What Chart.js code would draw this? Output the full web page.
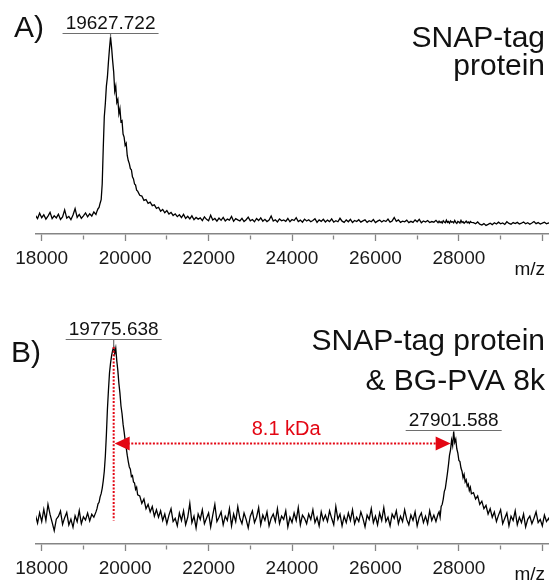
<!DOCTYPE html>
<html><head><meta charset="utf-8">
<script src="https://cdn.jsdelivr.net/npm/chart.js@4/dist/chart.umd.min.js"></script>
<style>
html,body{margin:0;padding:0;background:#fff;}
#wrap{position:relative;width:549px;height:585px;overflow:hidden;background:#fff;}
canvas{position:absolute;left:0;}
</style></head><body>
<div id="wrap">
<canvas id="cA" width="549" height="290" style="top:0px"></canvas>
<canvas id="cB" width="549" height="295" style="top:290px"></canvas>
</div>
<script>
// ---------- DATA ----------
const mz = [
17850,17900,17950,18000,18050,18100,18150,18200,18250,18300,18350,18400,18450,18500,18550,18600,18650,18700,18750,18800,18850,18900,18950,19000,19050,19100,19150,19200,19250,19300,
19325,19350,19375,19400,19425,19450,19475,19500,19525,19550,19575,19600,19625,19650,19675,19700,19725,19750,19775,19800,19825,19850,19875,19900,19925,19950,19975,20000,20025,20050,20075,20100,20125,20150,20175,20200,20225,20250,20275,20300,
20350,20400,20450,20500,20550,20600,20650,20700,20750,20800,
20850,20900,20950,21000,21050,21100,21150,21200,21250,21300,
21350,21400,21450,21500,21550,21600,21650,21700,21750,21800,
21850,21900,21950,22000,22050,22100,22150,22200,22250,22300,
22350,22400,22450,22500,22550,22600,22650,22700,22750,22800,
22850,22900,22950,23000,23050,23100,23150,23200,23250,23300,
23350,23400,23450,23500,23550,23600,23650,23700,23750,23800,
23850,23900,23950,24000,24050,24100,24150,24200,24250,24300,
24350,24400,24450,24500,24550,24600,24650,24700,24750,24800,
24850,24900,24950,25000,25050,25100,25150,25200,25250,25300,
25350,25400,25450,25500,25550,25600,25650,25700,25750,25800,
25850,25900,25950,26000,26050,26100,26150,26200,26250,26300,
26350,26400,26450,26500,26550,26600,26650,26700,26750,26800,
26850,26900,26950,27000,27050,27100,27150,27200,27250,27300,
27350,27400,27450,27500,
27525,27550,27575,27600,27625,27650,27675,27700,27725,27750,27775,27800,27825,27850,27875,27900,27925,27950,27975,28000,28025,28050,28075,28100,28125,28150,28175,28200,28225,28250,28275,28300,
28350,28400,28450,28500,28550,28600,28650,28700,28750,28800,28850,28900,28950,29000,29050,29100,29150,29200,29250,29300,29350,29400,29450,29500,29550,29600,29650,29700,29750,29800,29850,29900,29950,30000,30050,30100,30150,30200
];

// Panel A: SNAP-tag protein (relative intensity, %)
const intensityA = [
9.1,7.6,10.2,8.0,9.4,7.3,8.8,10.6,7.5,8.9,7.9,9.7,7.1,8.4,11.8,7.8,8.6,7.0,9.3,12.4,8.1,9.6,7.7,8.9,10.3,8.4,9.9,8.8,10.8,9.6,
11.2,12.4,13.0,15.1,16.8,24.5,42.0,57.5,64.0,72.5,77.0,84.5,91.0,96.5,91.5,85.0,79.5,70.0,72.5,64.5,66.0,59.0,61.5,55.0,55.5,49.0,47.5,43.5,44.5,38.5,36.0,34.5,32.0,31.5,28.0,27.0,24.5,24.0,21.5,21.0,
19.0,18.6,16.5,16.9,15.0,15.6,13.9,14.3,12.6,13.1,
11.2,12.0,10.4,11.5,9.8,10.6,9.1,9.9,8.5,9.4,
8.0,9.6,7.6,8.7,7.4,8.9,7.0,8.1,7.3,7.9,
6.6,8.4,7.2,6.5,9.2,6.9,7.6,6.3,7.8,6.7,
8.1,6.4,7.3,6.8,8.6,6.2,7.5,6.9,6.4,7.7,
6.1,7.0,8.3,6.5,7.1,6.0,7.6,6.6,7.9,6.3,
7.2,6.1,6.8,8.8,6.4,7.0,5.9,7.4,6.5,6.9,
6.2,7.6,6.0,7.1,6.6,8.0,6.1,6.8,5.8,7.3,
6.4,7.0,6.0,6.6,7.5,5.7,6.9,6.2,7.2,5.9,
6.8,6.1,7.4,5.8,6.5,6.0,7.7,6.3,5.7,6.9,
6.0,7.2,5.6,6.6,6.1,7.0,5.8,6.4,6.9,5.7,
6.5,6.0,7.1,5.6,6.3,6.8,5.9,6.6,6.1,7.3,
5.8,6.4,8.1,6.2,6.9,5.7,6.3,6.0,6.8,5.6,
6.2,5.7,6.9,6.0,7.2,5.5,6.4,5.9,6.6,5.6,
6.1,5.8,6.7,5.5,
6.3,5.6,6.0,5.4,6.5,5.9,5.5,6.8,5.7,6.1,5.3,6.4,5.8,6.0,5.5,6.6,5.7,5.2,6.2,5.9,5.4,6.7,5.6,6.0,5.3,5.8,6.3,5.5,5.9,5.2,6.1,5.7,
5.6,5.0,5.9,4.8,4.4,5.1,4.2,4.7,5.3,4.6,5.5,4.9,5.8,5.0,5.4,4.7,6.0,5.2,4.8,5.6,5.1,5.7,4.9,5.3,5.9,5.0,5.5,4.8,5.4,6.1,5.1,5.6,4.9,5.3,5.8,5.0,5.4,5.2
];

// Panel B: SNAP-tag protein & BG-PVA 8k (relative intensity, %)
const intensityB = [
13.5,9.8,14.6,10.5,16.2,11.0,18.5,13.8,10.1,6.2,11.6,12.9,15.4,9.2,12.3,14.8,8.9,11.6,7.8,13.2,10.4,15.6,9.5,12.7,11.2,14.4,10.8,13.9,12.5,15.0,
16.5,18.8,19.5,22.0,23.5,26.0,29.5,34.0,41.0,51.0,63.0,72.0,80.0,84.5,88.0,90.5,92.0,89.0,91.5,85.5,81.0,75.0,70.5,64.5,61.0,56.0,52.5,48.5,45.0,41.5,38.5,36.0,35.0,31.5,32.0,29.0,28.5,25.5,26.5,23.0,
22.5,19.0,21.0,16.5,18.5,15.0,17.5,13.0,16.0,12.5,
15.5,11.0,14.0,9.5,13.5,16.5,10.5,12.0,8.5,14.5,
11.0,15.5,9.0,12.5,19.0,10.0,13.0,7.5,14.0,11.5,
16.0,9.5,12.0,14.5,8.0,13.5,18.5,10.5,12.5,15.0,
9.0,13.0,11.0,16.5,8.5,14.0,10.5,17.5,12.0,9.5,
14.5,11.5,7.5,13.0,15.5,10.0,12.5,17.0,9.0,13.5,
11.0,15.0,8.5,12.0,14.0,10.5,16.5,9.5,13.0,11.5,
15.5,8.0,12.5,10.0,14.5,11.0,17.0,9.0,13.5,12.0,
9.5,14.0,11.5,16.0,10.0,12.5,8.5,15.0,11.0,13.5,
10.5,15.5,12.0,9.0,17.5,11.5,14.0,8.5,13.0,10.0,
14.5,11.0,16.0,9.5,12.5,10.5,15.0,12.0,8.0,13.5,
11.5,16.5,10.0,13.0,9.0,14.5,11.0,17.0,10.5,12.5,
8.5,14.0,12.0,15.5,9.5,13.0,10.5,16.0,11.5,9.0,
13.5,11.0,15.0,8.5,12.5,14.5,10.0,13.0,9.5,15.5,
11.0,13.5,10.5,14.0,
15.0,12.5,17.5,18.5,21.0,24.5,26.0,29.5,33.0,37.0,41.5,44.0,48.5,46.0,52.5,47.5,49.0,44.5,42.5,39.0,38.5,35.5,34.0,31.0,32.5,29.0,30.0,27.0,28.0,25.0,26.5,23.5,
24.0,21.0,22.5,18.5,20.0,16.5,18.0,14.0,16.5,12.5,15.0,10.5,13.5,16.0,9.5,12.0,14.5,8.5,13.0,11.0,15.5,9.0,12.5,10.0,14.0,8.0,11.5,13.0,9.5,12.0,15.0,10.0,11.5,8.5,13.5,10.5,12.0,9.5
];

const tickValues = [18000,19000,20000,21000,22000,23000,24000,25000,26000,27000,28000,29000,30000];
const tickLabels = ['18000','','20000','','22000','','24000','','26000','','28000','',''];
const axisTitle = 'm/z';

const panelLetterA = 'A)';
const titleA = ['SNAP-tag', 'protein'];
const peakMzA = [19650];
const peakTextA = ['19627.722'];

const panelLetterB = 'B)';
const titleB = ['SNAP-tag protein', '& BG-PVA 8k'];
const peakMzB = [19725, 27875];
const peakTextB = ['19775.638', '27901.588'];
const shiftText = '8.1 kDa';
const shiftLevel = 47;      // intensity level of the arrow
const shiftBase = 11;       // lower end of the dotted marker

// ---------- RENDERING ----------
const FONT = '"Liberation Sans", Arial, Helvetica, sans-serif';
const AXIS_GREY = '#858585';
const RED = '#e30613';

const annotate = {
  id: 'annotate',
  afterDraw(chart, args, o) {
    const {ctx, chartArea: ca} = chart;
    const x = chart.scales.x, y = chart.scales.y;
    ctx.save();
    ctx.fillStyle = '#111';
    ctx.textBaseline = 'alphabetic';
    ctx.font = `${o.bigSize}px ${FONT}`;
    ctx.textAlign = 'left';
    ctx.fillText(o.letter, o.letterX, o.letterBaseline);
    ctx.textAlign = 'right';
    o.title.forEach((t, i) => ctx.fillText(t, o.rightEdge, o.titleBaselines[i]));
    ctx.font = `19px ${FONT}`;
    ctx.fillText(axisTitle, o.rightEdge, ca.bottom + o.mzOffset);

    // peak labels
    const tops = [];
    o.peaks.forEach((pm, i) => {
      const idx = mz.indexOf(pm);
      const px = x.getPixelForValue(pm);
      const py = y.getPixelForValue(o.values[idx]);
      tops.push({px, py});
      const uy = Math.round(py - o.gaps[i]) + 0.5;
      ctx.strokeStyle = '#6e6e6e';
      ctx.lineWidth = 1.2;
      ctx.beginPath();
      ctx.moveTo(px - 48, uy); ctx.lineTo(px + 48, uy);
      ctx.moveTo(px, uy); ctx.lineTo(px, py);
      ctx.stroke();
      ctx.fillStyle = '#111';
      ctx.textAlign = 'center';
      ctx.font = `19px ${FONT}`;
      ctx.fillText(o.texts[i], px, uy - 4.5);
    });

    // mass-shift arrow
    if (o.shift && tops.length === 2) {
      const x1 = tops[0].px, x2 = tops[1].px - 3;
      const ay = y.getPixelForValue(shiftLevel);
      const yb = y.getPixelForValue(shiftBase);
      ctx.strokeStyle = RED;
      ctx.fillStyle = RED;
      ctx.lineWidth = 2;
      ctx.setLineDash([2, 1.6]);
      ctx.beginPath();
      ctx.moveTo(x1, tops[0].py); ctx.lineTo(x1, yb);
      ctx.moveTo(x1 + 14, ay); ctx.lineTo(x2 - 14, ay);
      ctx.stroke();
      ctx.setLineDash([]);
      ctx.beginPath();
      ctx.moveTo(x1 + 1, ay); ctx.lineTo(x1 + 16, ay - 7); ctx.lineTo(x1 + 16, ay + 7); ctx.closePath();
      ctx.moveTo(x2, ay); ctx.lineTo(x2 - 15, ay - 7); ctx.lineTo(x2 - 15, ay + 7); ctx.closePath();
      ctx.fill();
      ctx.font = `20px ${FONT}`;
      ctx.textAlign = 'center';
      ctx.fillText(shiftText, (x1 + x2) / 2 + 4, ay - 8);
    }
    ctx.restore();
  }
};

function makeChart(id, values, padTop, axisH, ann) {
  return new Chart(document.getElementById(id), {
    type: 'line',
    data: {
      datasets: [{
        data: mz.map((m, i) => ({x: m, y: values[i]})),
        borderColor: '#000',
        borderWidth: 1.3,
        pointRadius: 0,
        tension: 0,
        fill: false
      }]
    },
    options: {
      responsive: false,
      animation: false,
      devicePixelRatio: 1,
      layout: {padding: {left: 36, right: 0, top: padTop, bottom: 0}},
      plugins: {legend: {display: false}, tooltip: {enabled: false}, annotate: ann},
      scales: {
        x: {
          type: 'linear',
          min: 17863, max: 30160,
          afterBuildTicks: s => { s.ticks = tickValues.map(v => ({value: v})); },
          afterFit: s => { s.height = axisH; },
          ticks: {
            autoSkip: false, maxRotation: 0, minRotation: 0, padding: 6,
            color: '#1a1a1a', font: {family: FONT, size: 19},
            callback: (v, i) => tickLabels[i]
          },
          grid: {
            drawOnChartArea: false, drawTicks: true, tickLength: 7,
            color: AXIS_GREY, tickWidth: 1.3,
            tickBorderDash: c => (c.tick && c.tick.value % 2000 !== 0) ? [0, 1, 4, 50] : []
          },
          border: {display: true, color: AXIS_GREY, width: 1.5}
        },
        y: {display: false, min: 0, max: 100}
      }
    },
    plugins: [annotate]
  });
}

makeChart('cA', intensityA, 30, 56, {
  letter: panelLetterA, letterX: 14, letterBaseline: 37, bigSize: 30,
  title: titleA, titleBaselines: [47, 75], rightEdge: 545, mzOffset: 41,
  peaks: peakMzA, texts: peakTextA, values: intensityA, gaps: [4], shift: false
});
makeChart('cB', intensityB, 40, 41, {
  letter: panelLetterB, letterX: 11, letterBaseline: 72, bigSize: 30,
  title: titleB, titleBaselines: [60, 100], rightEdge: 545, mzOffset: 36,
  peaks: peakMzB, texts: peakTextB, values: intensityB, gaps: [8, 2], shift: true
});
</script>
</body></html>
